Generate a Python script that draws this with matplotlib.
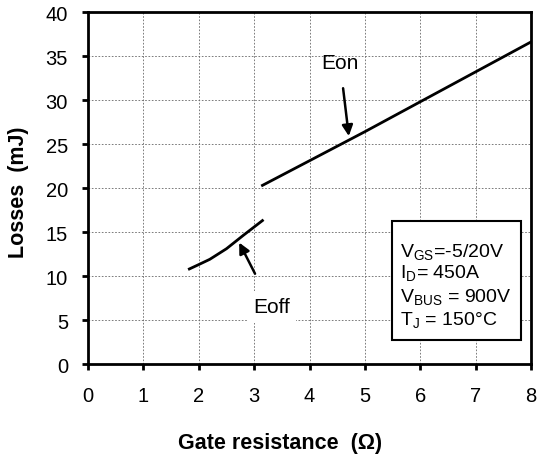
import matplotlib
matplotlib.use("Agg")
import matplotlib.pyplot as plt
from matplotlib.patches import Rectangle

plt.rcParams['font.family'] = ['Liberation Sans', 'DejaVu Sans']
plt.rcParams['mathtext.fontset'] = 'custom'
plt.rcParams['mathtext.rm'] = 'Liberation Sans'

# Data
eon_rg = [3.15, 4.0, 5.0, 6.0, 7.0, 8.0]
eon_loss = [20.3, 23.1, 26.4, 29.8, 33.2, 36.6]
eoff_rg = [1.83, 2.0, 2.2, 2.5, 2.8, 3.15]
eoff_loss = [10.8, 11.3, 11.9, 13.1, 14.6, 16.3]

xticks = [0, 1, 2, 3, 4, 5, 6, 7, 8]
yticks = [0, 5, 10, 15, 20, 25, 30, 35, 40]

cond_lines = [r'V$_{\mathregular{GS}}$=-5/20V',
              r'I$_{\mathregular{D}}$= 450A',
              r'V$_{\mathregular{BUS}}$ = 900V',
              r'T$_{\mathregular{J}}$ = 150°C']

fig = plt.figure(figsize=(5.42, 4.60), dpi=100)
ax = fig.add_axes([0.1624, 0.2065, 0.8173, 0.7652])

ax.plot(eon_rg, eon_loss, color='black', lw=2.0, zorder=3)
ax.plot(eoff_rg, eoff_loss, color='black', lw=2.0, zorder=3)

ax.set_xlim(0, 8)
ax.set_ylim(0, 40)
ax.set_xticks(xticks)
ax.set_yticks(yticks)
ax.tick_params(direction='out', length=4.5, width=2, labelsize=14.5)
ax.tick_params(axis='x', pad=11)
ax.tick_params(axis='y', pad=10)
for s in ax.spines.values():
    s.set_linewidth(2)
ax.grid(True, color='#666666', linestyle=(0, (2, 2)), linewidth=0.6)
ax.set_axisbelow(True)

ax.set_xlabel('Gate resistance  (Ω)', fontsize=15.5, fontweight='bold',
              va='center', ha='center')
ax.xaxis.set_label_coords(0.433, -0.222)
ax.set_ylabel('Losses  (mJ)', fontsize=15.5, fontweight='bold',
              va='center', ha='center')
ax.yaxis.set_label_coords(-0.158, 0.491)

ax.annotate('Eon', xy=(4.71, 25.9), xytext=(4.55, 34.3), fontsize=15,
            ha='center', va='center',
            arrowprops=dict(arrowstyle='-|>', color='black', lw=1.8,
                            mutation_scale=16, shrinkA=10, shrinkB=0))
ax.annotate('Eoff', xy=(2.73, 13.8), xytext=(3.32, 6.5), fontsize=15,
            ha='center', va='center',
            bbox=dict(boxstyle='square,pad=0.3', fc='white', ec='none'),
            arrowprops=dict(arrowstyle='-|>', color='black', lw=1.8,
                            mutation_scale=16, shrinkA=14, shrinkB=0))

rect = Rectangle((0.6856, 0.068), 0.2914, 0.337, transform=ax.transAxes,
                 fc='white', ec='black', lw=1.5, zorder=4)
ax.add_patch(rect)
ys = [0.306, 0.244, 0.177, 0.112]
for t, y in zip(cond_lines, ys):
    ax.text(0.7036, y, t, transform=ax.transAxes, fontsize=14,
            va='baseline', ha='left', zorder=5)

fig.savefig('out.png', dpi=100)
